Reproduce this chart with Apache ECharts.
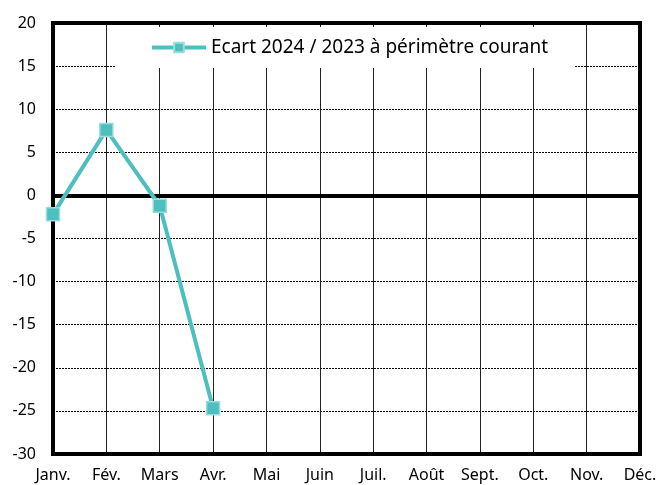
<!DOCTYPE html>
<html>
<head>
<meta charset="utf-8">
<script src="https://cdn.jsdelivr.net/npm/echarts@6/dist/echarts.min.js"></script>
<style>
  html, body { margin: 0; padding: 0; background: #fff; }
</style>
</head>
<body>
<div id="main" style="width: 661px; height: 485px"></div>
<script>
var months = ["Janv.", "Fév.", "Mars", "Avr.", "Mai", "Juin", "Juil.", "Août", "Sept.", "Oct.", "Nov.", "Déc."];
var ecart = [-2.2, 7.6, -1.2, -24.7, null, null, null, null, null, null, null, null];
var seriesName = "Ecart 2024 / 2023 à périmètre courant";

var myChart = echarts.init(document.getElementById("main"));

var option = {
  animation: false,
  textStyle: { fontFamily: "Noto Sans" },
  grid: {
    left: 53,
    right: 21,
    top: 23,
    bottom: 31,
    show: true,
    borderColor: "#000",
    borderWidth: 4,
    z: 3,
  },
  legend: {
    data: [seriesName],
    top: 27,
    left: 115,
    backgroundColor: "#fff",
    padding: [11, 26, 11, 35],
    itemWidth: 54,
    itemHeight: 12,
    itemGap: 6,
    lineStyle: { width: 4 },
    textStyle: { color: "#000", fontSize: 19, fontFamily: "Noto Sans" },
  },
  xAxis: {
    type: "category",
    data: months,
    boundaryGap: false,
    axisLine: { show: false },
    axisTick: { show: false },
    axisLabel: { color: "#000", fontSize: 16, margin: 13, interval: 0 },
    splitLine: { show: true, lineStyle: { color: "#222", width: 1, type: "solid" } },
  },
  yAxis: {
    type: "value",
    min: -30,
    max: 20,
    interval: 5,
    axisLine: { show: false },
    axisTick: { show: false },
    axisLabel: { color: "#000", fontSize: 16, margin: 17 },
    splitLine: { show: true, lineStyle: { color: "#000", width: 1, type: [2, 1] } },
  },
  series: [
    {
      name: seriesName,
      type: "line",
      data: ecart,
      symbol: "rect",
      symbolSize: 13,
      z: 5,
      lineStyle: { color: "#4DBFBF", width: 4 },
      itemStyle: { color: "#4DBFBF", borderColor: "#9ADCDC", borderWidth: 1.5 },
      markLine: {
        silent: true,
        symbol: "none",
        label: { show: false },
        lineStyle: { color: "#000", width: 4, type: "solid" },
        data: [{ yAxis: 0 }],
        z: 1,
      },
    },
  ],
};

myChart.setOption(option);
</script>
</body>
</html>
